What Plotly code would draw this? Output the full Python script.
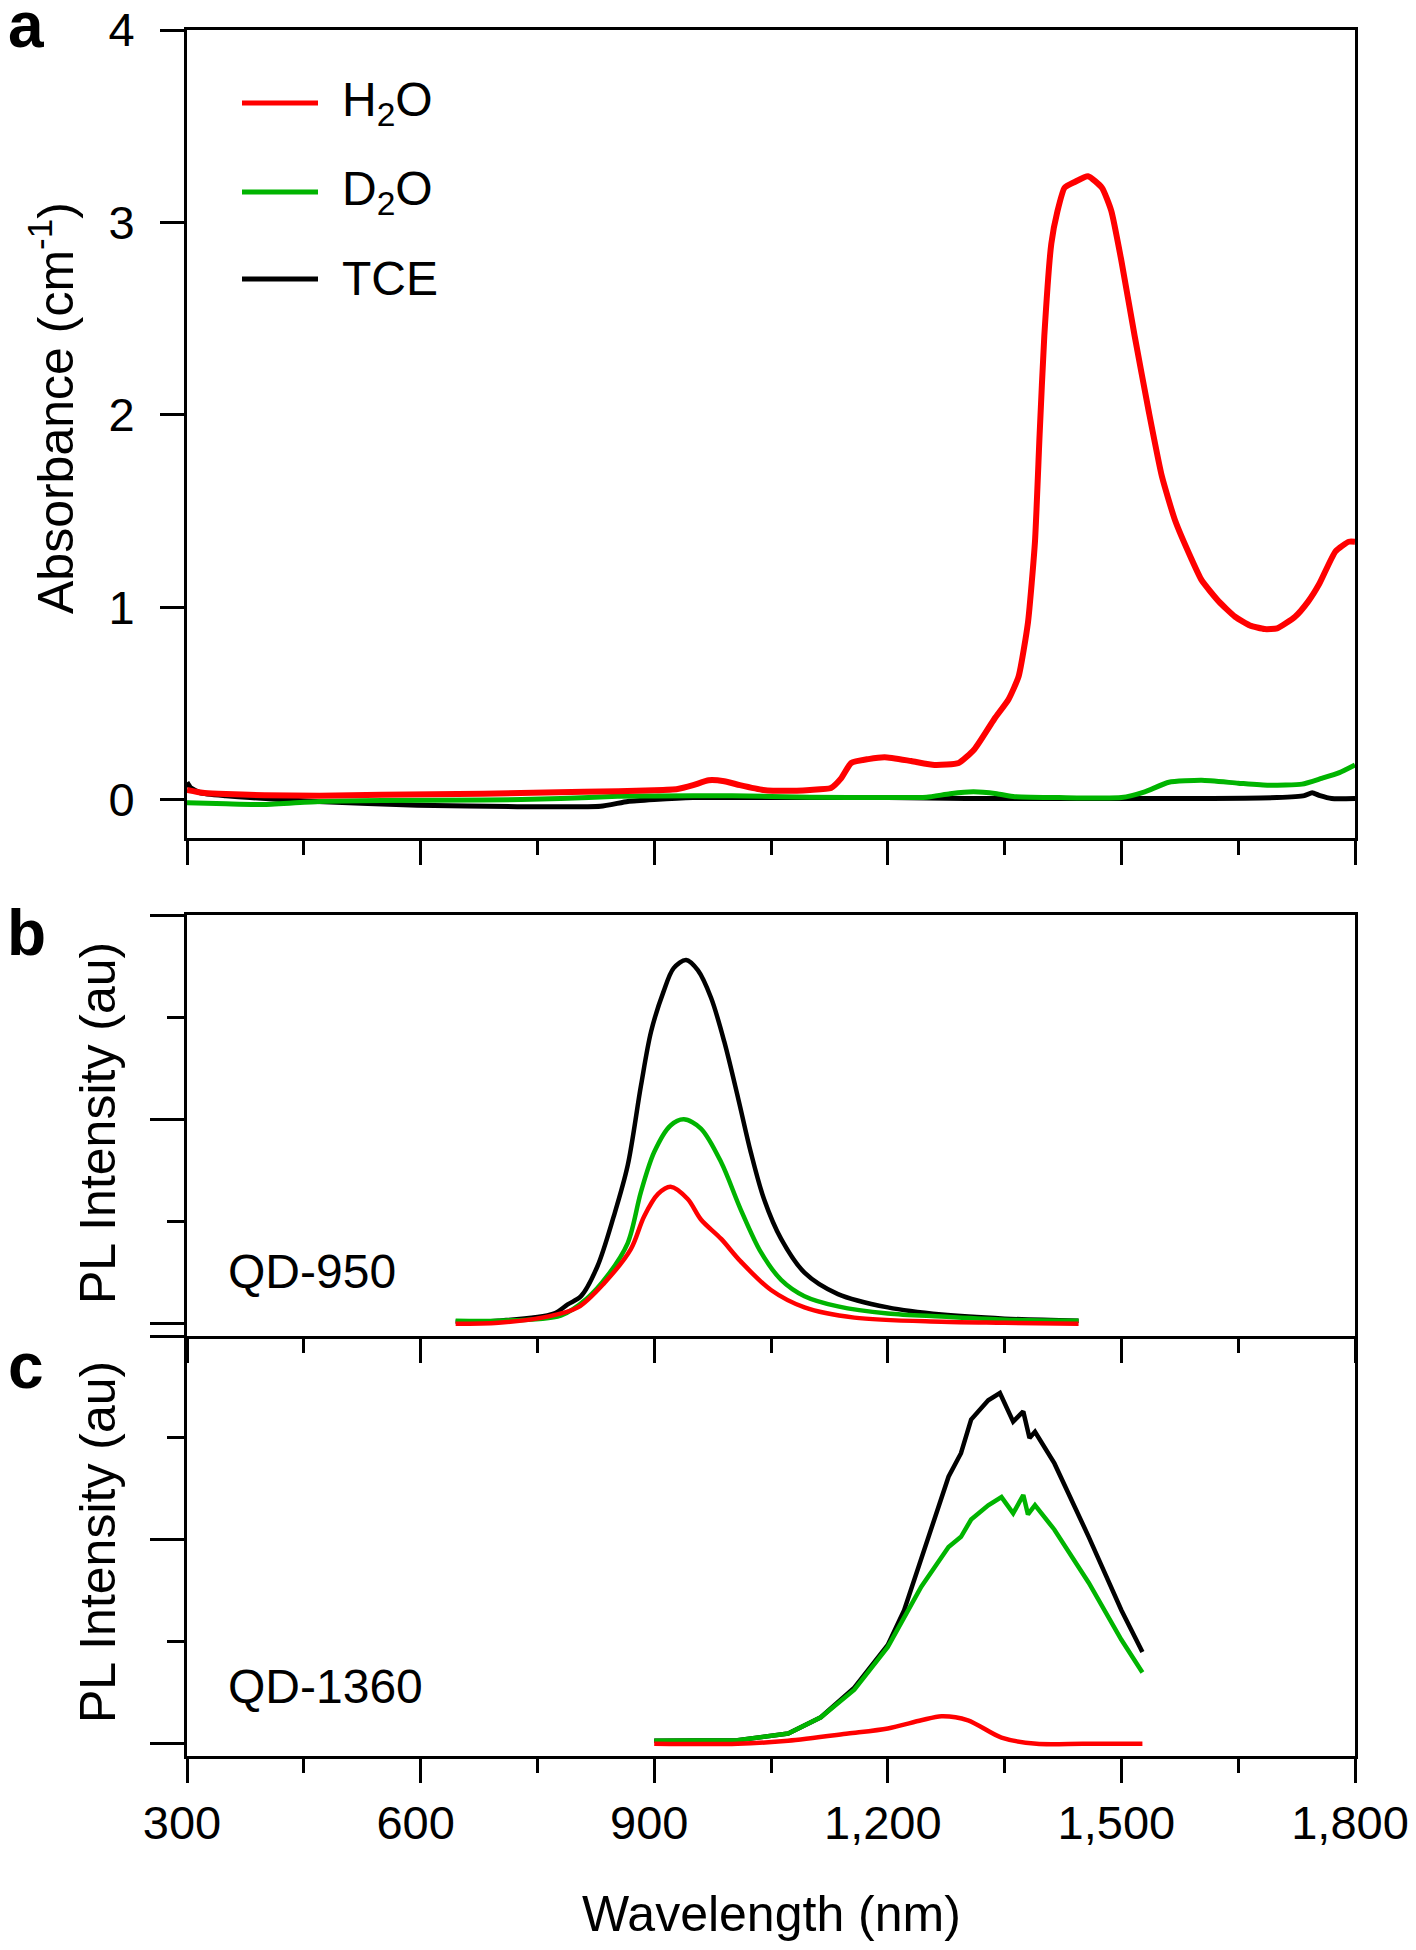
import plotly.graph_objects as go

W, H = 1416, 1950
OFF = 8  # the page body keeps an 8 px margin round the figure
FW, FH = W - 2 * OFF, H - 2 * OFF
FONT = "Liberation Sans, Arial, sans-serif"
RED, GREEN, BLACK = "#FF0000", "#00B400", "#000000"

# ---- panel a: absorbance of the solvents ----
h2o_abs_x = [300, 320, 340, 400, 470, 550, 680, 810, 900, 930, 950, 970, 990, 1010, 1040, 1070,
             1100, 1127, 1140, 1153, 1175, 1196, 1230, 1260, 1291, 1311, 1337, 1355, 1368, 1380,
             1389, 1395, 1401, 1410, 1418, 1427, 1440, 1457, 1475, 1487, 1500, 1517, 1535, 1552,
             1569, 1590, 1603, 1625, 1646, 1665, 1684, 1700, 1723, 1740, 1754, 1775, 1792, 1800]
h2o_abs_y = [0.05, 0.035, 0.03, 0.022, 0.02, 0.025, 0.03, 0.04, 0.048, 0.055, 0.075, 0.1, 0.095,
             0.075, 0.05, 0.045, 0.05, 0.06, 0.11, 0.19, 0.21, 0.22, 0.2, 0.18, 0.19, 0.26, 0.42,
             0.52, 0.64, 0.92, 1.34, 1.9, 2.41, 2.89, 3.06, 3.18, 3.21, 3.24, 3.18, 3.06, 2.80,
             2.41, 2.02, 1.68, 1.45, 1.25, 1.14, 1.03, 0.95, 0.905, 0.886, 0.89, 0.95, 1.03, 1.12,
             1.29, 1.34, 1.34]

d2o_abs_x = [300, 350, 400, 470, 550, 680, 780, 853, 900, 1000, 1100, 1200, 1250, 1280, 1310,
             1340, 1363, 1420, 1500, 1530, 1561, 1603, 1650, 1689, 1732, 1757, 1780, 1800]
d2o_abs_y = [-0.017, -0.022, -0.026, -0.01, -0.005, -0.003, 0.005, 0.017, 0.018, 0.02, 0.012,
             0.01, 0.012, 0.03, 0.04, 0.03, 0.015, 0.01, 0.01, 0.04, 0.09, 0.1, 0.085, 0.074,
             0.08, 0.11, 0.14, 0.18]

tce_abs_x = [300, 305, 317, 350, 381, 467, 596, 724, 831, 866, 900, 950, 1050, 1200, 1300, 1400,
             1500, 1600, 1700, 1735, 1745, 1755, 1770, 1800]
tce_abs_y = [0.09, 0.06, 0.035, 0.02, 0.01, -0.01, -0.03, -0.037, -0.035, -0.01, 0.0, 0.01,
             0.01, 0.01, 0.005, 0.005, 0.005, 0.005, 0.01, 0.02, 0.035, 0.02, 0.005, 0.005]

# ---- panel b: PL of QD-950 ----
tce_pl950_x = [645, 700, 771, 789, 806, 827, 848, 866, 883, 896, 912, 925, 941, 956, 973, 990,
               1008, 1024, 1041, 1063, 1093, 1136, 1200, 1269, 1350, 1445]
tce_pl950_y = [0.02, 0.03, 0.1, 0.19, 0.27, 0.56, 1.05, 1.55, 2.33, 2.86, 3.25, 3.48, 3.56,
               3.46, 3.19, 2.76, 2.2, 1.68, 1.22, 0.83, 0.5, 0.29, 0.16, 0.09, 0.05, 0.03]

d2o_pl950_x = [645, 700, 780, 814, 840, 866, 883, 900, 921, 938, 960, 986, 1011, 1037, 1063,
               1093, 1136, 1200, 1269, 1350, 1445]
d2o_pl950_y = [0.03, 0.03, 0.08, 0.25, 0.47, 0.79, 1.29, 1.68, 1.94, 2.0, 1.91, 1.58, 1.12, 0.7,
               0.43, 0.27, 0.17, 0.1, 0.07, 0.04, 0.03]

h2o_pl950_x = [645, 700, 763, 802, 836, 870, 887, 905, 921, 943, 960, 986, 1011, 1050, 1093,
               1157, 1269, 1350, 1445]
h2o_pl950_y = [0.0, 0.01, 0.07, 0.16, 0.4, 0.73, 1.05, 1.27, 1.34, 1.22, 1.02, 0.83, 0.61, 0.33,
               0.16, 0.06, 0.02, 0.01, 0.0]

# ---- panel c: PL of QD-1360 ----
tce_pl1360_x = [900, 1007, 1072, 1114, 1157, 1200, 1221, 1252, 1278, 1294, 1307, 1329, 1344,
                1361, 1374, 1382, 1389, 1414, 1458, 1500, 1527]
tce_pl1360_y = [0.03, 0.035, 0.1, 0.26, 0.55, 0.97, 1.31, 2.03, 2.62, 2.85, 3.18, 3.37, 3.44,
                3.16, 3.26, 3.0, 3.06, 2.75, 2.03, 1.31, 0.9]

d2o_pl1360_x = [900, 1007, 1072, 1114, 1157, 1200, 1243, 1278, 1294, 1307, 1329, 1346, 1361,
                1374, 1380, 1389, 1414, 1458, 1500, 1527]
d2o_pl1360_y = [0.03, 0.035, 0.1, 0.26, 0.53, 0.95, 1.54, 1.93, 2.03, 2.2, 2.34, 2.42, 2.26,
                2.44, 2.25, 2.34, 2.1, 1.58, 1.02, 0.7]

h2o_pl1360_x = [900, 1007, 1072, 1149, 1200, 1243, 1269, 1303, 1346, 1391, 1450, 1527]
h2o_pl1360_y = [0.0, 0.0, 0.03, 0.1, 0.15, 0.23, 0.27, 0.23, 0.06, 0.0, 0.0, 0.0]

x_tickvals = [300, 600, 900, 1200, 1500, 1800]
x_ticktext = ["300", "600", "900", "1,200", "1,500", "1,800"]
legend_names = ["H<sub>2</sub>O", "D<sub>2</sub>O", "TCE"]
legend_colors = [RED, GREEN, BLACK]


# page pixels -> paper fractions
def px(x):
    return (x - OFF) / FW


def py(y):
    return 1 - (y - OFF) / FH


fig = go.Figure()


def add_line(x, y, color, axis, width, shape="linear", smoothing=0.5):
    fig.add_trace(go.Scatter(x=x, y=y, mode="lines", xaxis="x" + axis, yaxis="y" + axis,
                             line=dict(color=color, width=width, shape=shape, smoothing=smoothing),
                             showlegend=False, hoverinfo="skip"))


add_line(tce_abs_x, tce_abs_y, BLACK, "", 5, "spline")
add_line(d2o_abs_x, d2o_abs_y, GREEN, "", 5, "spline")
add_line(h2o_abs_x, h2o_abs_y, RED, "", 6, "spline")

add_line(tce_pl950_x, tce_pl950_y, BLACK, "2", 4.5, "spline", 0.9)
add_line(d2o_pl950_x, d2o_pl950_y, GREEN, "2", 4.5, "spline", 0.9)
add_line(h2o_pl950_x, h2o_pl950_y, RED, "2", 4.5, "spline", 0.9)

add_line(tce_pl1360_x, tce_pl1360_y, BLACK, "3", 4.5)
add_line(d2o_pl1360_x, d2o_pl1360_y, GREEN, "3", 4.5)
add_line(h2o_pl1360_x, h2o_pl1360_y, RED, "3", 4.5, "spline", 0.8)

common = dict(showline=True, linecolor="black", linewidth=3, mirror=True, showgrid=False,
              zeroline=False, ticks="outside", tickcolor="black", tickwidth=3, automargin=False,
              ticklabeloverflow="allow")
x_dom = [px(187), px(1355)]
x_minor = dict(dtick=150, ticklen=14, tickwidth=3, tickcolor="black", ticks="outside")
tick_font = dict(size=47, color="black", family=FONT)


def xaxis(anchor, labels, mirror=True):
    return dict(common, domain=x_dom, anchor=anchor, range=[300, 1800], tickvals=x_tickvals,
                ticktext=x_ticktext, ticklen=24, minor=x_minor, showticklabels=labels,
                tickfont=tick_font, mirror=mirror, ticklabelshift=-5)


def pl_yaxis(top, bottom, anchor):
    return dict(common, domain=[py(bottom), py(top)], anchor=anchor,
                range=[-0.12, 4], tickvals=[0, 2, 4], ticklen=34, showticklabels=False,
                minor=dict(tickvals=[1, 3], ticklen=17, tickwidth=3, tickcolor="black",
                           ticks="outside"))


annotations = []


def text(x, y, s, size, bold=False, angle=0, xanchor="center"):
    annotations.append(dict(x=px(x), y=py(y), xref="paper", yref="paper", text=s,
                            showarrow=False, textangle=angle, xanchor=xanchor, yanchor="middle",
                            font=dict(size=size, color="black", family=FONT,
                                      weight="bold" if bold else "normal")))


text(26, 25, "a", 64, bold=True)
text(26, 933, "b", 64, bold=True)
text(26, 1366, "c", 64, bold=True)
text(52, 408, "Absorbance (cm<sup>-1</sup>)", 50, angle=-90)
text(98, 1123, "PL Intensity (au)", 50, angle=-90)
text(98, 1542, "PL Intensity (au)", 50, angle=-90)
text(771, 1914, "Wavelength (nm)", 50)
text(226, 1271, "QD-950", 48, xanchor="left")
text(226, 1686, "QD-1360", 48, xanchor="left")

shapes = []
for i, (name, color) in enumerate(zip(legend_names, legend_colors)):
    yy = [103, 192, 279][i]
    shapes.append(dict(type="line", xref="paper", yref="paper", x0=px(242), x1=px(318),
                       y0=py(yy), y1=py(yy), line=dict(color=color, width=5)))
    text(340, yy, name, 48, xanchor="left")

fig.update_layout(
    width=FW, height=FH, margin=dict(l=0, r=0, t=0, b=0, autoexpand=False),
    paper_bgcolor="white", plot_bgcolor="white",
    font=dict(family=FONT, color="black"),
    xaxis=xaxis("y", False),
    xaxis2=xaxis("y2", False),
    xaxis3=xaxis("y3", True, mirror=False),
    yaxis=dict(common, domain=[py(838), py(30)], anchor="x", range=[-0.2, 4],
               tickvals=[0, 1, 2, 3, 4], ticklen=24, tickfont=tick_font,
               ticklabelstandoff=16),
    yaxis2=pl_yaxis(915, 1336, "x2"),
    yaxis3=pl_yaxis(1336, 1756, "x3"),
    annotations=annotations,
    shapes=shapes,
)

fig.write_html("out.html")
